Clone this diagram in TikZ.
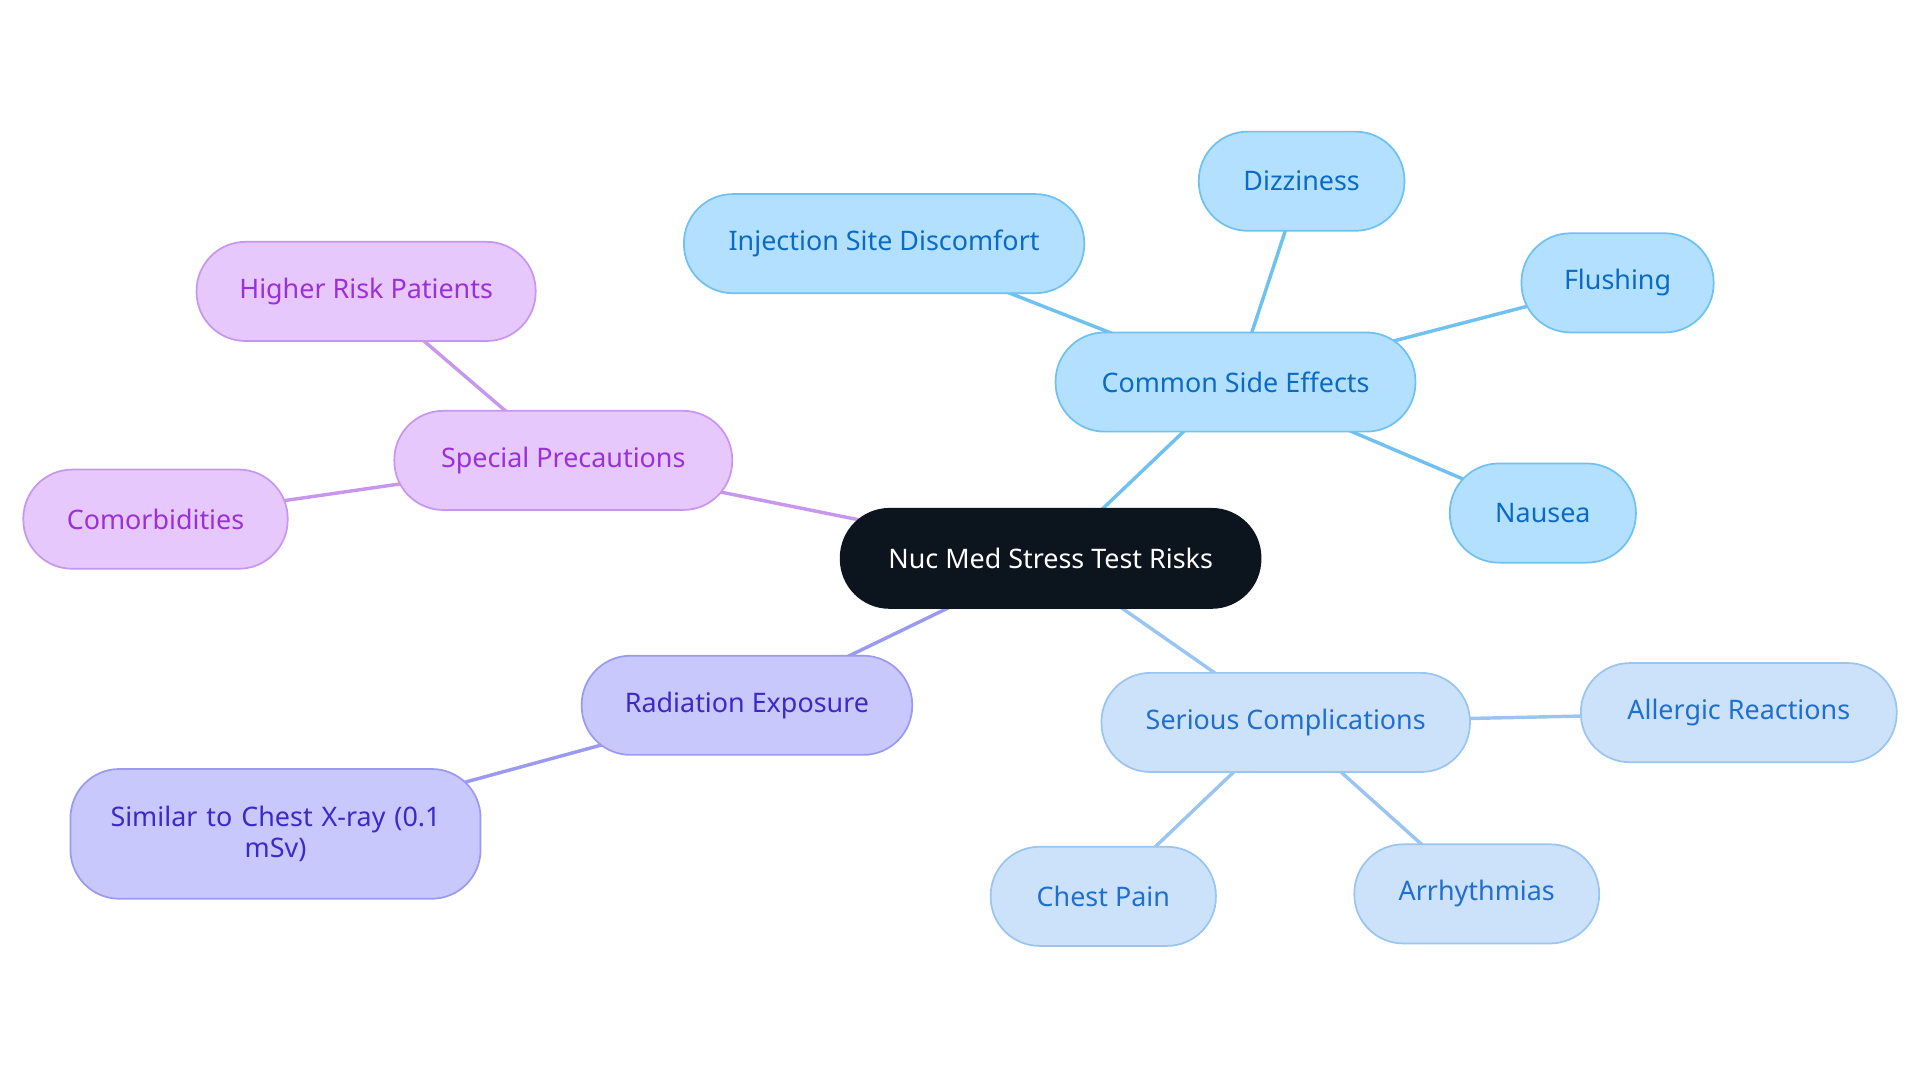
\documentclass[tikz,border=0pt]{standalone}
\usepackage{fontspec}
\setmainfont{Noto Sans}
\usetikzlibrary{backgrounds}

\definecolor{rootfill}{HTML}{0C141E}
\definecolor{cfill}{HTML}{B3E0FF}\definecolor{cline}{HTML}{6EC1F0}\definecolor{ctext}{HTML}{0A6BC4}
\definecolor{sfill}{HTML}{CCE2FA}\definecolor{sline}{HTML}{9AC5F0}\definecolor{stext}{HTML}{1F6FD0}
\definecolor{pfill}{HTML}{E6C8FC}\definecolor{pline}{HTML}{C797EF}\definecolor{ptext}{HTML}{9B30D9}
\definecolor{rfill}{HTML}{C8C8FC}\definecolor{rline}{HTML}{9A9AF0}\definecolor{rtext}{HTML}{3A2AC8}

\tikzset{
    box/.style = {draw, rounded corners=0.8cm, minimum height=1.62cm, align=center,
        font=\fontsize{12.5}{14}\selectfont, line width=0.8pt},
    common/.style = {box, fill=cfill, draw=cline, text=ctext},
    serious/.style = {box, fill=sfill, draw=sline, text=stext},
    precaution/.style = {box, fill=pfill, draw=pline, text=ptext},
    radiation/.style = {box, fill=rfill, draw=rline, text=rtext},
    link/.style = {line width=1.6pt}
}

\begin{document}
\begin{tikzpicture}[x=0.02cm, y=-0.02cm]
    \useasboundingbox (0,0) rectangle (1568,884);

    \node[box, fill=rootfill, draw=rootfill, text=white, minimum width=6.86cm] (root) at (858,456) {Nuc Med Stress Test Risks};

    \node[common, minimum width=5.88cm] (side) at (1009,312) {Common Side Effects};
    \node[common, minimum width=6.54cm] (inject) at (722,199) {Injection Site Discomfort};
    \node[common, minimum width=3.36cm] (dizzy) at (1063,148) {Dizziness};
    \node[common, minimum width=3.14cm] (flush) at (1321,231) {Flushing};
    \node[common, minimum width=3.04cm] (nausea) at (1260,419) {Nausea};

    \node[precaution, minimum width=5.52cm] (special) at (460,376) {Special Precautions};
    \node[precaution, minimum width=5.54cm] (higher) at (299,238) {Higher Risk Patients};
    \node[precaution, minimum width=4.32cm] (comorb) at (127,424) {Comorbidities};

    \node[radiation, minimum width=5.40cm] (radiation) at (610,576) {Radiation Exposure};
    \node[radiation, minimum width=6.70cm, minimum height=2.12cm, text width=6cm] (xray) at (225,681) {Similar to Chest X-ray (0.1\\mSv)};

    \node[serious, minimum width=6.02cm] (serious) at (1050,590) {Serious Complications};
    \node[serious, minimum width=5.16cm] (allergic) at (1420,582) {Allergic Reactions};
    \node[serious, minimum width=3.68cm] (chest) at (901,732) {Chest Pain};
    \node[serious, minimum width=4.00cm] (arrhythm) at (1206,730) {Arrhythmias};

    \begin{scope}[on background layer]
        \draw[link, cline] (root.center) -- (side.center);
        \foreach \leaf in {inject, dizzy, flush, nausea}
            \draw[link, cline] (side.center) -- (\leaf.center);
        \draw[link, pline] (root.center) -- (special.center);
        \foreach \leaf in {higher, comorb}
            \draw[link, pline] (special.center) -- (\leaf.center);
        \draw[link, rline] (root.center) -- (radiation.center);
        \draw[link, rline] (radiation.center) -- (xray.center);
        \draw[link, sline] (root.center) -- (serious.center);
        \foreach \leaf in {allergic, chest, arrhythm}
            \draw[link, sline] (serious.center) -- (\leaf.center);
    \end{scope}
\end{tikzpicture}
\end{document}
